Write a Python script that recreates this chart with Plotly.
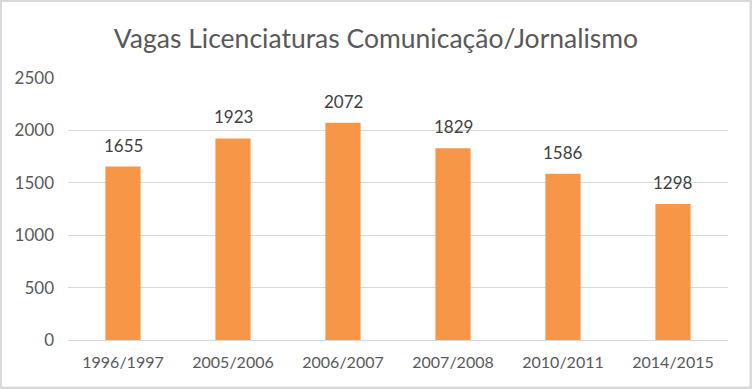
import plotly.graph_objects as go

categories = ["1996/1997", "2005/2006", "2006/2007", "2007/2008", "2010/2011", "2014/2015"]
values = [1655, 1923, 2072, 1829, 1586, 1298]
y_ticks = [0, 500, 1000, 1500, 2000, 2500]

W, H = 752, 389
L, R, T, B = 68, 24, 78, 49
pw, ph = W - L - R, H - T - B

fig = go.Figure(go.Bar(
    x=categories, y=values,
    marker=dict(color="#F79646", line=dict(width=0)), width=0.32,
))

for c, v in zip(categories, values):
    fig.add_annotation(x=c, y=v, text=str(v), showarrow=False, yanchor="bottom",
                       yshift=9, font=dict(size=17, color="#404040"))

def px2paper_x(p):
    return (p - L) / pw

def px2paper_y(p):
    return (H - B - p) / ph

fig.add_shape(type="rect", xref="paper", yref="paper",
              x0=px2paper_x(2), x1=px2paper_x(749.5), y0=px2paper_y(386.5), y1=px2paper_y(2),
              fillcolor="white", line=dict(width=0), layer="below")

fig.update_layout(
    width=W, height=H,
    margin=dict(l=L, r=R, t=T, b=B, pad=0),
    paper_bgcolor="#D9D9D9", plot_bgcolor="white",
    font=dict(family="Lato, Open Sans, sans-serif", color="#595959"),
    title=dict(text="Vagas Licenciaturas Comunicação/Jornalismo", x=0.5, xanchor="center",
               xref="container",
               y=1 - 39 / H, yanchor="middle", font=dict(size=26.5, color="#595959")),
    bargap=0.68, showlegend=False,
    xaxis=dict(showgrid=False, showline=True, linecolor="#D9D9D9", linewidth=1,
               ticks="", tickfont=dict(size=16, color="#595959"), ticklabelstandoff=8),
    yaxis=dict(range=[0, 2500], tickvals=y_ticks, showgrid=True, gridcolor="#D9D9D9",
               gridwidth=1, zeroline=False, showline=False, ticks="",
               tickfont=dict(size=17, color="#595959"), ticklabelstandoff=13),
)
fig.write_html("out.html", config={"displayModeBar": False},
               post_script="document.body.style.margin='0';")
